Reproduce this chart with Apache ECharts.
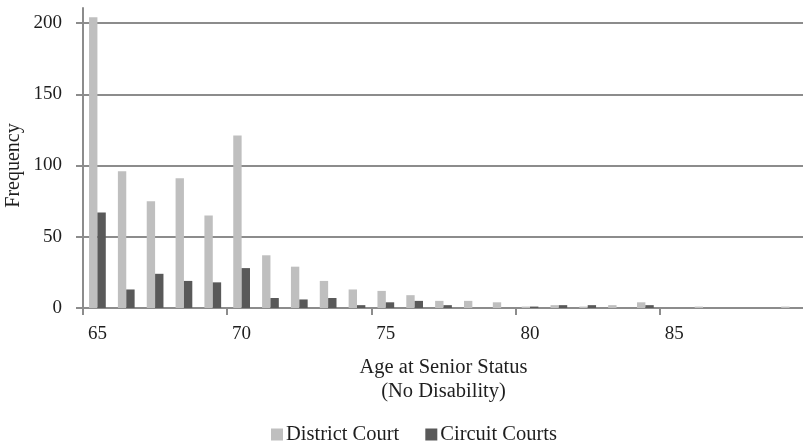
<!DOCTYPE html>
<html>
<head>
<meta charset="utf-8">
<script src="https://cdn.jsdelivr.net/npm/echarts@6/dist/echarts.min.js"></script>
<style>
html,body{margin:0;padding:0;background:#fff;}
#c{width:803px;height:444px;}
</style>
</head>
<body>
<div id="c"></div>
<script>
const categories = ['65','66','67','68','69','70','71','72','73','74','75','76','77','78','79','80','81','82','83','84','85','86','87','88','89'];
const districtCourt = [204, 96, 75, 91, 65, 121, 37, 29, 19, 13, 12, 9, 5, 5, 4, 1, 2, 1, 2, 4, 0, 1, 0, 0, 1];
const circuitCourts = [67, 13, 24, 19, 18, 28, 7, 6, 7, 2, 4, 5, 2, 0, 0, 1, 2, 2, 0, 2, 0, 0, 0, 0, 0];

const font = 'Liberation Serif';
const txt = '#1e1e1e';
const lineCol = '#8c8c8c';

const chart = echarts.init(document.getElementById('c'));
chart.setOption({
  animation: false,
  textStyle: { fontFamily: font, color: txt },
  grid: [
    { left: 83, right: -1, top: 23, bottom: 136, containLabel: false, outerBoundsMode: 'none' },
    { left: 83, right: -1, top: 8, height: 15, containLabel: false, outerBoundsMode: 'none' }
  ],
  legend: {
    left: 266, top: 419,
    icon: 'rect', itemWidth: 12, itemHeight: 12, itemGap: 26,
    textStyle: { fontFamily: font, fontSize: 20.5, color: txt, padding: [0, 0, 0, -2] },
    data: ['District Court', 'Circuit Courts']
  },
  xAxis: [
    {
      type: 'category',
      gridIndex: 0,
      data: categories,
      boundaryGap: true,
      name: 'Age at Senior Status\n(No Disability)',
      nameLocation: 'middle',
      nameGap: 48,
      nameMoveOverlap: false,
      nameTextStyle: { fontFamily: font, fontSize: 20.5, color: txt, lineHeight: 24 },
      axisLine: { lineStyle: { color: lineCol, width: 2 } },
      axisTick: { show: true, interval: 4, length: 7, lineStyle: { color: lineCol, width: 2 } },
      axisLabel: { interval: 4, margin: 17, fontFamily: font, fontSize: 19, color: txt },
      splitLine: { show: false }
    },
    {
      type: 'category', gridIndex: 1, data: categories, show: false
    }
  ],
  yAxis: [
    {
      type: 'value',
      gridIndex: 0,
      min: 0, max: 200, interval: 50,
      name: 'Frequency',
      nameLocation: 'middle',
      nameGap: 59,
      nameMoveOverlap: false,
      nameTextStyle: { fontFamily: font, fontSize: 20, color: txt },
      axisLine: { show: true, lineStyle: { color: lineCol, width: 2 } },
      axisTick: { show: true, inside: false, length: 7, lineStyle: { color: lineCol, width: 2 } },
      axisLabel: { margin: 21, fontFamily: font, fontSize: 19, color: txt },
      splitLine: { show: true, lineStyle: { color: lineCol, width: 2 } }
    },
    {
      type: 'value',
      gridIndex: 1,
      min: 0, max: 1,
      axisLine: { show: true, lineStyle: { color: lineCol, width: 2 } },
      axisTick: { show: false },
      axisLabel: { show: false },
      splitLine: { show: false }
    }
  ],
  series: [
    {
      name: 'District Court', type: 'bar', data: districtCourt,
      xAxisIndex: 0, yAxisIndex: 0, clip: false,
      itemStyle: { color: '#bfbfbf' },
      barGap: '0%', barCategoryGap: '42%'
    },
    {
      name: 'Circuit Courts', type: 'bar', data: circuitCourts,
      xAxisIndex: 0, yAxisIndex: 0, clip: false,
      itemStyle: { color: '#595959' },
      barGap: '0%', barCategoryGap: '42%'
    }
  ]
});
</script>
</body>
</html>
